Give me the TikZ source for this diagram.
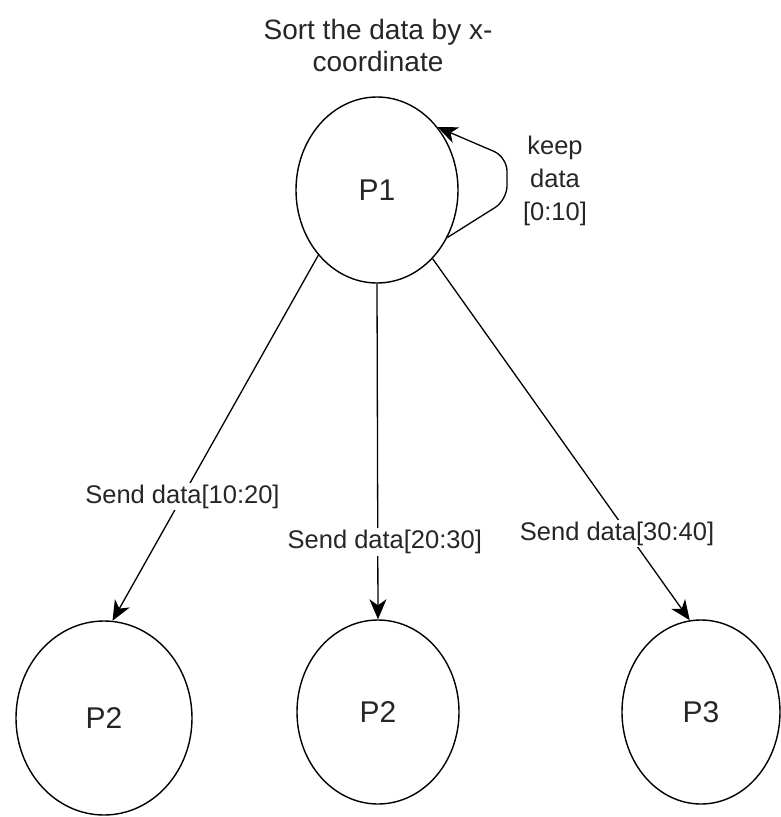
\documentclass[tikz,border=0pt]{standalone}
\usepackage{fontspec}
\setmainfont{Liberation Sans}
\usetikzlibrary{arrows.meta,shapes.geometric}
\tikzset{
  proc/.style={draw, ellipse, line width=1.4pt, inner sep=0pt,
    font=\fontsize{30}{34}\selectfont, text=black!85},
  flow/.style={line width=1.3pt, -{Stealth[length=20pt,width=17pt,inset=6pt]}},
  edgelabel/.style={fill=white, inner sep=2pt, text=black!85,
    font=\fontsize{25.5}{33}\selectfont},
  note/.style={align=center, text=black!85, font=\fontsize{28}{32}\selectfont}
}
\begin{document}
\begin{tikzpicture}[x=1pt, y=-1pt]
  \useasboundingbox (0,0) rectangle (780,817);

  % processes
  \node[proc, minimum width=162pt, minimum height=186pt] (P1) at (377,190) {P1};
  \node[proc, minimum width=176pt, minimum height=194pt] (P2a) at (104,718) {P2};
  \node[proc, minimum width=162pt, minimum height=184pt] (P2b) at (378,712) {P2};
  \node[proc, minimum width=158pt, minimum height=184pt] (P3) at (701,712) {P3};

  % heading above P1
  \node[note] (title) at (378,45) {Sort the data by x-\\coordinate};

  % P1 keeps its own slice
  \coordinate (loopA) at (507,200);
  \coordinate (loopB) at (507,157);
  \draw[flow, rounded corners=14pt] (P1.-34) -- (loopA) -- (loopB) -- (P1.46);
  \node[edgelabel, align=center, fill=none] (keep) at (555,181) {keep\\data\\{[0:10]}};

  % distribution of the remaining slices
  \draw[flow] (P1.-132) -- (P2a.85)
    node[edgelabel, pos=0.66] (l1) {Send data[10:20]};
  \draw[flow] (P1.south) -- (P2b.north)
    node[edgelabel, pos=0.77, xshift=7pt] (l2) {Send data[20:30]};
  \draw[flow] (P1.-51) -- (P3.97)
    node[edgelabel, pos=0.76, xshift=-11pt] (l3) {Send data[30:40]};
\end{tikzpicture}
\end{document}
